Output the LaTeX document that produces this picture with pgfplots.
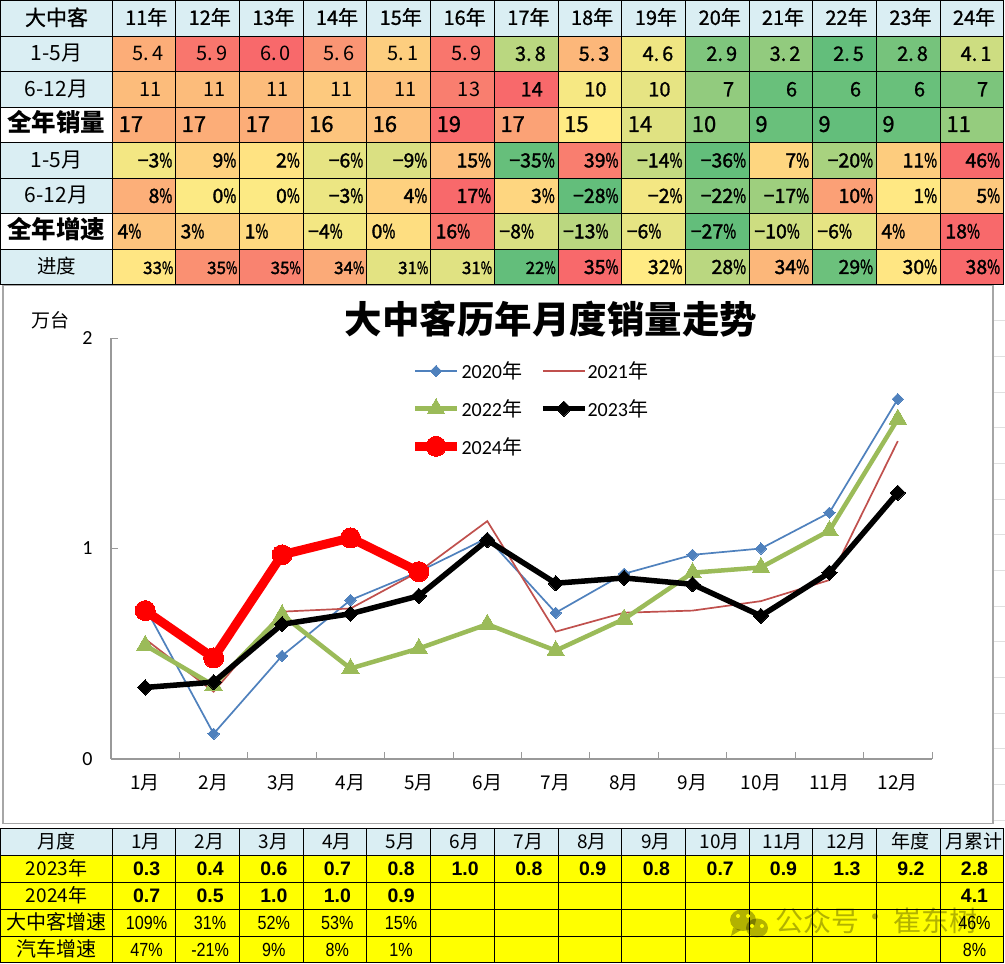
\documentclass[border=0pt]{standalone}
\usepackage{pgfplots}
\usepackage{graphicx}
\usepackage{fontspec}
\pgfplotsset{compat=1.18}
\setmainfont{Noto Sans CJK SC}
\newfontfamily\cjk{Noto Sans CJK SC}
\newfontfamily\cjkm[FakeBold=0.9]{Noto Sans CJK SC}
\newfontfamily\cjkb[FakeBold=1.8]{Noto Sans CJK SC}
\newfontfamily\lat{Carlito}
\newfontfamily\arial{Liberation Sans}
\definecolor{hmR}{HTML}{F8696B}
\definecolor{hmY}{HTML}{FFEB84}
\definecolor{hmG}{HTML}{63BE7B}
\definecolor{hdr}{HTML}{DAEEF3}
\definecolor{yel}{HTML}{FFFF00}
\definecolor{c20}{HTML}{4F81BD}
\definecolor{c21}{HTML}{C0504D}
\definecolor{c22}{HTML}{9BBB59}
\definecolor{c24}{HTML}{FF0000}
\newcommand\fs[1]{\fontsize{#1}{#1}\selectfont}
\newcommand\pc{\scalebox{.72}[1]{\%}}
\def\cols{{112.5,175.5,239.5,303,366.5,430.5,494.3,558,621.7,685.7,749.3,812.3,876.3,940.3,1003.3}}
\tikzset{cellb/.style={draw=black,line width=.9pt}}
% #1 y0, #2 y1, #3 first column, #4 anchor, #5 x expression, #6 font, #7 heat/text list
\newcommand\heatrow[7]{%
  \foreach \tv/\st [count=\i from #3] in {#7}{%
    \pgfmathsetmacro\xa{\cols[\i]}%
    \pgfmathsetmacro\xb{\cols[\i+1]}%
    \ifnum\tv<50
      \pgfmathtruncatemacro\mm{2*\tv}\colorlet{cc}{hmY!\mm!hmG}%
    \else
      \pgfmathtruncatemacro\mm{2*\tv-100}\colorlet{cc}{hmR!\mm!hmY}%
    \fi
    \path[fill=cc,cellb] (\xa,#1) rectangle (\xb,#2);
    \node[anchor=#4,inner sep=0pt] at ({#5},{(#1+#2)/2+7}) {#6 \st};
  }%
}
\newcommand\lab[4]{% y0 y1 fill text
  \path[fill=#3,cellb] (0.5,#1) rectangle (112.5,#2);
  \node[anchor=base,inner sep=0pt] at (56.5,{(#1+#2)/2+7}) {#4};
}
% plain table row: #1 y0 #2 y1 #3 fill #4 font #5 list of 14 texts
\newcommand\plainrow[5]{%
  \foreach \st [count=\i from 0] in {#5}{%
    \pgfmathsetmacro\xa{\cols[\i]}%
    \pgfmathsetmacro\xb{\cols[\i+1]}%
    \path[fill=#3,cellb] (\xa,#1) rectangle (\xb,#2);
    \node[anchor=base,inner sep=0pt] at ({(\xa+\xb)/2},{(#1+#2)/2+6.5}) {#4 \st};
  }%
}
\begin{document}
\begin{tikzpicture}
\useasboundingbox (0,0) rectangle (1005pt,964pt);
\fill[white] (0,0) rectangle (1005pt,964pt);
\begin{scope}[x=1pt,y=-1pt,shift={(0pt,964pt)}]
  \foreach \yy in {320,356,392,427,463,499,534,570,606,641,677,713,748,784,820}
    \draw[color=black!12,line width=.8pt] (993,\yy) -- (1005,\yy);
  \path[fill=white,draw=black!35,line width=1.6pt] (3,285) rectangle (992.7,823.5);
  \node[inner sep=0pt] at (551,319.5) {\cjk\bfseries\fs{37.5}大中客历年月度销量走势};
  \node[inner sep=0pt] at (50,320) {\cjk\fs{19}万台};
\end{scope}

\begin{axis}[
  at={(111pt,205pt)},anchor=south west,
  scale only axis,width=821pt,height=421pt,
  xmin=0.5,xmax=12.5,ymin=0,ymax=2,
  axis x line*=bottom,axis y line*=left,
  axis line style={draw=black!40,line width=1.1pt,-},
  tick align=inside,
  xtick={1,2,3,4,5,6,7,8,9,10,11,12},
  xticklabels={1月,2月,3月,4月,5月,6月,7月,8月,9月,10月,11月,12月},
  minor xtick={1.5,2.5,3.5,4.5,5.5,6.5,7.5,8.5,9.5,10.5,11.5,12.5},
  ytick={0,1,2},
  major tick length=7pt,minor tick length=7pt,
  tick style={draw=black!40,line width=.9pt},
  every major x tick/.append style={draw=none},
  xticklabel style={font=\cjk\fs{19},yshift=-12pt},
  yticklabel style={font=\lat\fs{20},xshift=-15pt,/pgf/number format/assume math mode=true},
  legend columns=2,
  legend cell align=left,
  legend style={at={(0.3646,0.944)},anchor=north west,draw=none,fill=none,
    font=\lat\fs{20},row sep=18.5pt,inner sep=0pt,nodes={inner sep=0pt},
    /tikz/every even column/.append style={column sep=18pt},
    /tikz/every odd column/.append style={column sep=0pt}},
  legend image code/.code={\draw[mark repeat=2,mark phase=2,#1] plot coordinates {(0pt,0pt) (21pt,0pt) (42pt,0pt)};},
]
\addplot[color=c20,line width=1.7pt,mark=square*,mark size=4pt,mark options={rotate=45,solid,line width=0pt}]
  coordinates {(1,0.72)(2,0.12)(3,0.49)(4,0.755)(5,0.89)(6,1.05)(7,0.695)(8,0.88)(9,0.97)(10,1.0)(11,1.17)(12,1.71)};
\addlegendentry{2020{\cjk 年}}
\addplot[color=c21,line width=1.7pt]
  coordinates {(1,0.57)(2,0.32)(3,0.70)(4,0.715)(5,0.89)(6,1.13)(7,0.605)(8,0.695)(9,0.705)(10,0.75)(11,0.85)(12,1.51)};
\addlegendentry{2021{\cjk 年}}
\addplot[color=c22,line width=4.5pt,mark=triangle*,mark size=10pt,mark options={solid,line width=0pt}]
  coordinates {(1,0.54)(2,0.35)(3,0.685)(4,0.43)(5,0.525)(6,0.64)(7,0.515)(8,0.665)(9,0.885)(10,0.91)(11,1.085)(12,1.615)};
\addlegendentry{2022{\cjk 年}}
\addplot[color=black,line width=5.5pt,mark=square*,mark size=5.4pt,mark options={rotate=45,solid,line width=0pt}]
  coordinates {(1,0.34)(2,0.365)(3,0.64)(4,0.69)(5,0.775)(6,1.04)(7,0.835)(8,0.86)(9,0.83)(10,0.68)(11,0.885)(12,1.265)};
\addlegendentry{2023{\cjk 年}}
\addplot[color=c24,line width=9pt,mark=*,mark size=10pt,mark options={solid,line width=0pt}]
  coordinates {(1,0.705)(2,0.48)(3,0.97)(4,1.05)(5,0.89)};
\addlegendentry{2024{\cjk 年}}
\end{axis}

\begin{scope}[x=1pt,y=-1pt,shift={(0pt,964pt)}]
  % top table
  \lab{0.5}{36.3}{hdr}{\cjkm\fs{21}大中客}
  \plainrow{0.5}{36.3}{hdr}{\cjkm\fs{20}}{11年,12年,13年,14年,15年,16年,17年,18年,19年,20年,21年,22年,23年,24年}
  \lab{36.3}{71.5}{hdr}{\cjk\fs{21}1-5月}
  \heatrow{36.3}{71.5}{0}{base}{(\xa+\xb)/2+2}{\cjk\fs{20}}{74/5.\kern3pt 4,95/5.\kern3pt 9,100/6.\kern3pt 0,83/5.\kern3pt 6,61/5.\kern3pt 1,95/5.\kern3pt 9}
  \heatrow{36.3}{71.5}{6}{base}{(\xa+\xb)/2+2}{\cjkm\fs{20}}{28/3.\kern3pt 8,70/5.\kern3pt 3,45/4.\kern3pt 6,9/2.\kern3pt 9,15/3.\kern3pt 2,0/2.\kern3pt 5,6/2.\kern3pt 8,34/4.\kern3pt 1}
  \lab{71.5}{107.4}{hdr}{\cjk\fs{21}6-12月}
  \heatrow{71.5}{107.4}{0}{base east}{\xb-14}{\cjk\fs{20}}{68/11,68/11,68/11,63/11,66/11,92/13}
  \heatrow{71.5}{107.4}{6}{base east}{\xb-15}{\cjkm\fs{20}}{100/14,47/10,42/10,15/7,2/6,2/6,2/6,8/7}
  \lab{107.4}{142.5}{white}{\cjk\bfseries\fs{24.5}全年销量}
  \heatrow{107.4}{142.5}{0}{base west}{\xa+1}{\cjkm\fs{22}}{74/17,74/17,74/17,65/16,66/16,100/19,78/17,50/15,40/14,14/10,2/9,0/9,2/9,16/11}
  \lab{142.5}{178.3}{hdr}{\cjk\fs{21}1-5月}
  \heatrow{142.5}{178.3}{0}{base east}{\xb-3}{\cjkb\fs{19.5}}{46/−3\pc,60/9\pc,53/2\pc,42/−6\pc,38/−9\pc,67/15\pc,1/−35\pc,92/39\pc,31/−14\pc,0/−36\pc,58/7\pc,22/−20\pc,62/11\pc,100/46\pc}
  \lab{178.3}{213.4}{hdr}{\cjk\fs{21}6-12月}
  \heatrow{178.3}{213.4}{0}{base east}{\xb-3}{\cjkb\fs{19.5}}{73/8\pc,49/0\pc,49/0\pc,44/−3\pc,60/4\pc,100/17\pc,58/3\pc,0/−28\pc,46/−2\pc,10/−22\pc,19/−17\pc,79/10\pc,51/1\pc,63/5\pc}
  \lab{213.4}{249.4}{white}{\cjk\bfseries\fs{24.5}全年增速}
  \heatrow{213.4}{249.4}{0}{base west}{\xa+0.5}{\cjkb\fs{19.5}}{65/4\pc,62/3\pc,57/1\pc,46/−4\pc,55/0\pc,95/16\pc,38/−8\pc,28/−13\pc,42/−6\pc,0/−27\pc,34/−10\pc,42/−6\pc,65/4\pc,100/18\pc}
  \lab{249.4}{284.6}{hdr}{\cjk\fs{19.5}进度}
  \heatrow{249.4}{284.6}{0}{base east}{\xb-2}{\cjkb\fs{17}}{52/33\pc,85/35\pc,90/35\pc,75/34\pc,41/31\pc,40/31\pc,0/22\pc}
  \heatrow{249.4}{284.6}{7}{base east}{\xb-3}{\cjkb\fs{19.5}}{100/35\pc,50/32\pc,28/28\pc,70/34\pc,3/29\pc,52/30\pc,100/38\pc}

  % bottom table
  \lab{828.3}{855.3}{hdr}{\cjk\fs{19}月度}
  \plainrow{828.3}{855.3}{hdr}{\cjk\fs{19}}{1月,2月,3月,4月,5月,6月,7月,8月,9月,10月,11月,12月,年度,月累计}
  \lab{855.3}{882.3}{yel}{\cjk\fs{19}2023年}
  \plainrow{855.3}{882.3}{yel}{\arial\bfseries\fs{19.5}}{0.3,0.4,0.6,0.7,0.8,1.0,0.8,0.9,0.8,0.7,0.9,1.3,9.2,2.8}
  \lab{882.3}{909.3}{yel}{\cjk\fs{19}2024年}
  \plainrow{882.3}{909.3}{yel}{\arial\bfseries\fs{19.5}}{0.7,0.5,1.0,1.0,0.9,{},{},{},{},{},{},{},{},4.1}
  \lab{909.3}{936.7}{yel}{\cjk\fs{20}大中客增速}
  \plainrow{909.3}{936.7}{yel}{\arial\fs{19}}{\scalebox{.85}[1]{109\%},\scalebox{.85}[1]{31\%},\scalebox{.85}[1]{52\%},\scalebox{.85}[1]{53\%},\scalebox{.85}[1]{15\%},{},{},{},{},{},{},{},{},\scalebox{.85}[1]{46\%}}
  \lab{936.7}{962.4}{yel}{\cjk\fs{20}汽车增速}
  \plainrow{936.7}{962.4}{yel}{\arial\fs{19}}{\scalebox{.85}[1]{47\%},\scalebox{.85}[1]{-21\%},\scalebox{.85}[1]{9\%},\scalebox{.85}[1]{8\%},\scalebox{.85}[1]{1\%},{},{},{},{},{},{},{},{},\scalebox{.85}[1]{8\%}}

  % watermark
  \begin{scope}[opacity=.3]
    \fill[black] (743,920) ellipse [x radius=13,y radius=11];
    \fill[black] (757,928) ellipse [x radius=11,y radius=9.5];
    \fill[black] (733,928) -- (731,936) -- (741,930) -- cycle;
    \node[inner sep=0pt,anchor=west,text=black] at (775,921) {\cjk\fs{28}公众号};
    \node[inner sep=0pt,text=black] at (875,921) {\cjk\fs{28}·};
    \node[inner sep=0pt,anchor=west,text=black] at (893,921) {\cjk\fs{28}崔东树};
  \end{scope}
  \foreach \px/\py in {738/916,748/916,752/926,762/926}
    \fill[yel] (\px,\py) circle [radius=2];
\end{scope}
\end{tikzpicture}
\end{document}
